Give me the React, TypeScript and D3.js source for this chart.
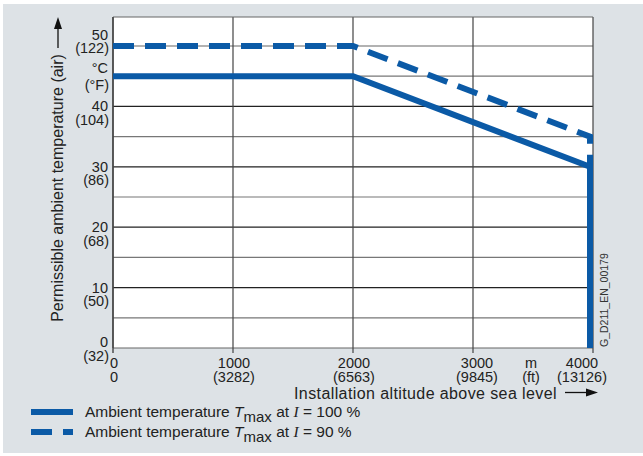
import React from "react";
import * as d3 from "d3";

const altitudes = [0, 1000, 2000, 3000, 4000];
const altitudeFt = ["0", "(3282)", "(6563)", "(9845)", "(13126)"];
const tempTicks = [0, 10, 20, 30, 40, 50];
const tempF = ["(32)", "(50)", "(68)", "(86)", "(104)", "(122)"];
const minorTemps = [5, 15, 25, 35, 45];
const series100: [number, number][] = [
  [0, 45],
  [2000, 45],
  [4000, 30],
  [4000, 0],
];
const series90: [number, number][] = [
  [0, 50],
  [2000, 50],
  [4000, 35],
  [4000, 0],
];

const W = 643;
const H = 456;
const BLUE = "#0b5aa6";
const TXT = "#222";
const FONT = "'Liberation Sans', Arial, sans-serif";

export default function App() {
  const x = d3.scaleLinear().domain([0, 4000]).range([113, 593]);
  const y = d3.scaleLinear().domain([0, 54.8]).range([348, 17]);
  const lw = 6;
  const line = d3
    .line<[number, number]>()
    .x((d) => (d[0] === 4000 ? x(d[0]) - lw / 2 : x(d[0])))
    .y((d) => y(d[1]));

  const top = y(54.8);
  const bottom = y(0);
  const left = x(0);
  const right = x(4000);

  return (
    <svg
      width={W}
      height={H}
      style={{ position: "absolute", left: 0, top: 0, fontFamily: FONT }}
    >
      <rect x={0} y={0} width={W} height={H} fill="#fff" />
      <rect x={3} y={4} width={W - 3} height={449} fill="#dde2e6" />
      <rect x={left} y={top} width={right - left} height={bottom - top} fill="#fff" />
      {/* minor horizontal gridlines */}
      {minorTemps.map((t) => (
        <line key={"m" + t} x1={left} x2={right} y1={y(t)} y2={y(t)} stroke="#777" strokeWidth={1.2} />
      ))}
      {/* major horizontal gridlines */}
      {tempTicks.map((t) => (
        <line key={"h" + t} x1={left} x2={right} y1={y(t)} y2={y(t)} stroke={t === 50 || t === 0 ? "#666" : "#222"} strokeWidth={1.2} />
      ))}
      {/* vertical gridlines */}
      {altitudes.map((a) => (
        <line key={"v" + a} x1={x(a)} x2={x(a)} y1={top} y2={a === 0 ? bottom : bottom + 5} stroke="#444" strokeWidth={1.2} />
      ))}
      <line x1={left} x2={right} y1={top} y2={top} stroke="#666" strokeWidth={1.2} />
      <line x1={left} x2={left} y1={top} y2={bottom + 5} stroke="#444" strokeWidth={1.4} />

      {/* data lines */}
      <path d={line(series90) || ""} fill="none" stroke={BLUE} strokeWidth={lw} strokeDasharray="21,11" />
      <path d={line(series100) || ""} fill="none" stroke={BLUE} strokeWidth={lw} />

      {/* y tick labels */}
      {tempTicks.map((t, i) => {
        const yy = y(t);
        const o1 = t === 50 ? -6 : t === 0 ? -1 : 5;
        const o2 = t === 50 ? 7 : t === 0 ? 13 : 18.5;
        return (
          <g key={"yl" + t} fontSize={14.5} fill={TXT} textAnchor="end">
            <text x={108} y={yy + o1}>{t}</text>
            <text x={109} y={yy + o2}>{tempF[i]}</text>
          </g>
        );
      })}
      <text x={108} y={73} fontSize={14.5} fill={TXT} textAnchor="end">°C</text>
      <text x={109} y={90} fontSize={14.5} fill={TXT} textAnchor="end">(°F)</text>

      {/* x tick labels */}
      {altitudes.map((a, i) => {
        const xx = a === 4000 ? x(a) - 11 : a === 3000 ? x(a) + 4 : a === 0 ? x(a) + 1 : x(a) + 1;
        return (
          <g key={"xl" + a} fontSize={14.5} fill={TXT} textAnchor="middle">
            <text x={xx} y={368}>{a}</text>
            <text x={xx} y={381.5}>{altitudeFt[i]}</text>
          </g>
        );
      })}
      <text x={531} y={368} fontSize={14.5} fill={TXT} textAnchor="middle">m</text>
      <text x={531} y={381.5} fontSize={14.5} fill={TXT} textAnchor="middle">(ft)</text>

      {/* axis titles */}
      <text x={294} y={399} fontSize={16} letterSpacing={0.4} fill={TXT}>
        Installation altitude above sea level
      </text>
      <line x1={565} x2={590} y1={392.5} y2={392.5} stroke="#111" strokeWidth={1.3} />
      <path d="M598,392.5 L586,388.5 L586,396.5 Z" fill="#111" />

      <text transform="translate(63,188) rotate(-90)" fontSize={16} fill={TXT} textAnchor="middle">
        Permissible ambient temperature (air)
      </text>
      <line x1={58} x2={58} y1={48} y2={25} stroke="#111" strokeWidth={1.3} />
      <path d="M58,17 L54,29 L62,29 Z" fill="#111" />

      <text transform="translate(608,347) rotate(-90)" fontSize={10.5} fill="#333">
        G_D211_EN_00179
      </text>

      {/* legend */}
      <line x1={31} x2={73} y1={412} y2={412} stroke={BLUE} strokeWidth={lw} />
      <line x1={31} x2={73} y1={432} y2={432} stroke={BLUE} strokeWidth={lw} strokeDasharray="21,11" />
      {["100", "90"].map((p, i) => (
        <text key={"lg" + p} x={85} y={417 + i * 20} fontSize={15.5} fill={TXT}>
          Ambient temperature{" "}
          <tspan fontStyle="italic">T</tspan>
          <tspan fontSize={15} dy={5}>max</tspan>
          <tspan dy={-5}> at </tspan>
          <tspan fontStyle="italic" fontFamily="'Liberation Serif', 'Times New Roman', serif">I</tspan>
          <tspan> = {p} %</tspan>
        </text>
      ))}
    </svg>
  );
}
